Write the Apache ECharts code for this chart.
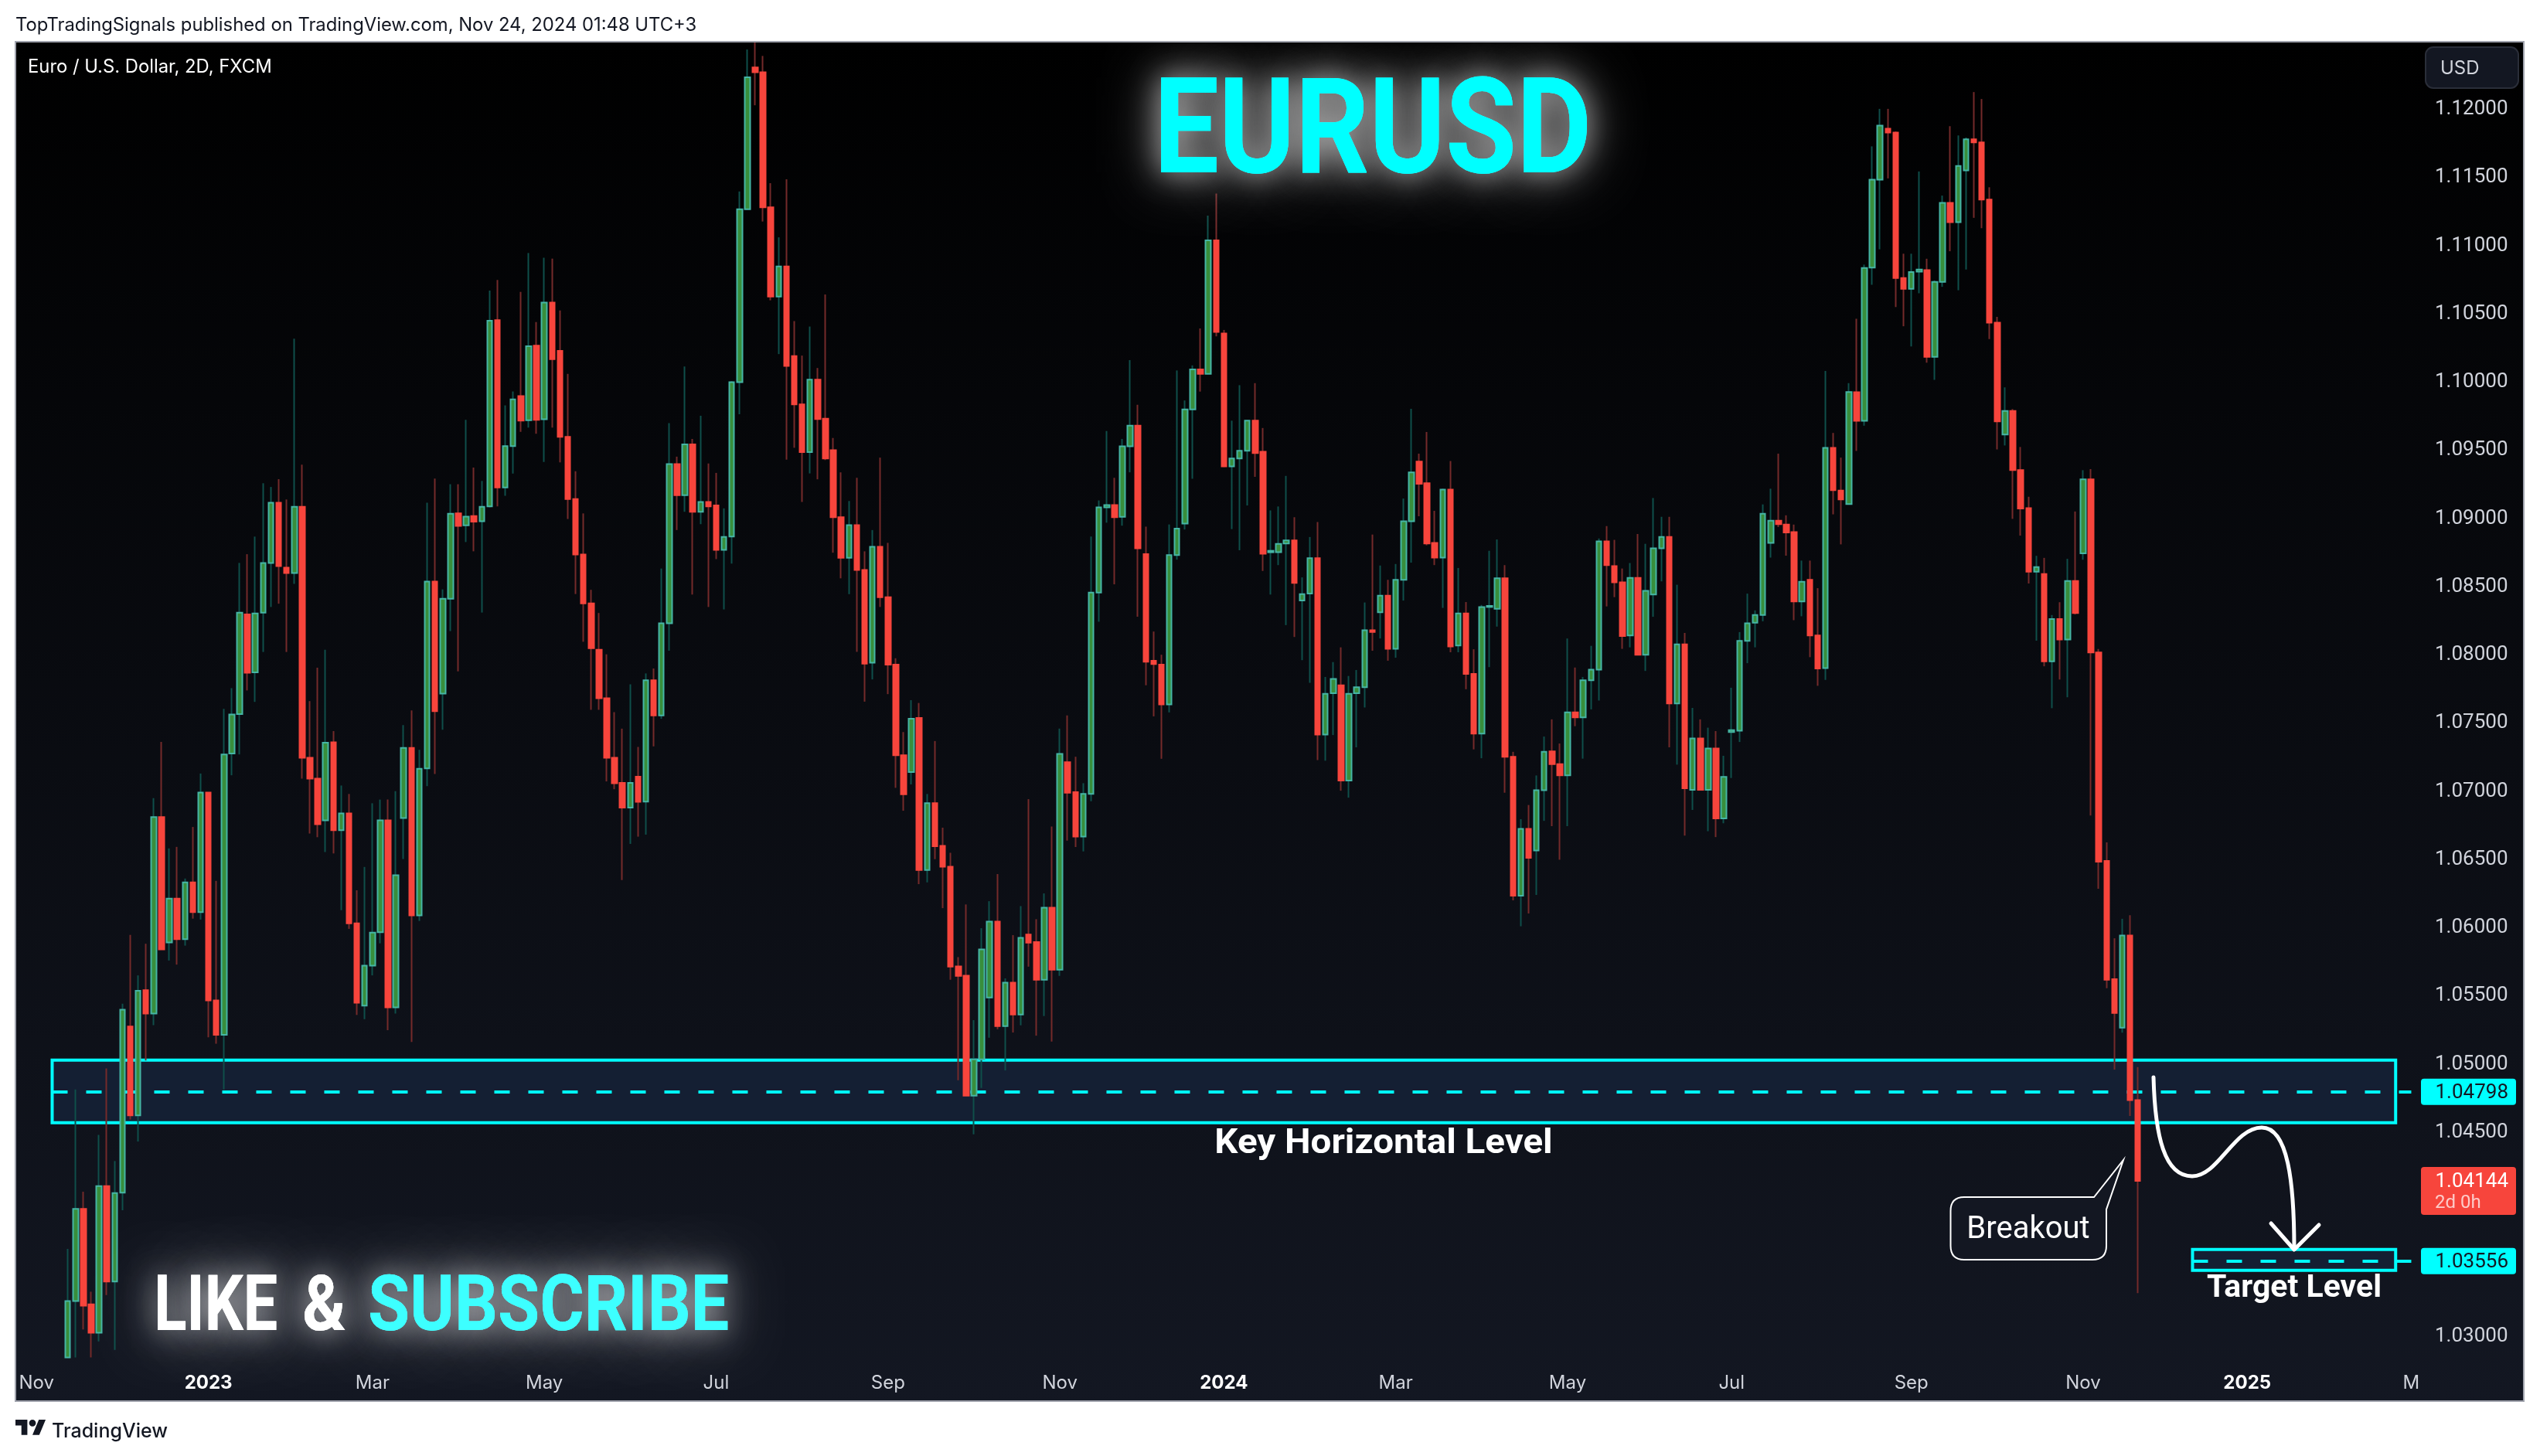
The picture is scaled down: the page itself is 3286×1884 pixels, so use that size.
<!DOCTYPE html>
<html><head><meta charset="utf-8">
<style>html,body{margin:0;padding:0;background:#fff}#c{width:3286px;height:1884px}</style>
<script src="https://cdn.jsdelivr.net/npm/echarts@6/dist/echarts.min.js"></script>
</head><body><div id="c"></div>
<script>
const opens=[
1.02850,1.03263,1.03939,1.03240,1.03031,1.04106,1.03407,1.04058,1.05276,1.04624,
1.05542,1.05371,1.06811,1.05893,1.06214,1.05917,1.06333,1.06115,1.06992,1.05467,
1.05215,1.07278,1.07567,1.08298,1.07873,1.08311,1.08675,1.09116,1.08641,1.08600,
1.09086,1.07247,1.07094,1.06787,1.07360,1.06715,1.06838,1.06033,1.05429,1.05723,
1.05968,1.06787,1.05416,1.06804,1.07319,1.06091,1.07169,1.08539,1.07717,1.08413,
1.09038,1.08950,1.09018,1.08980,1.09089,1.10455,1.09228,1.09531,1.09898,1.09721,
1.10268,1.09728,1.10584,1.10230,1.09599,1.09143,1.08736,1.08379,1.08039,1.07683,
1.07247,1.07062,1.06881,1.07108,1.06925,1.07814,1.07557,1.08233,1.09400,1.09172,
1.09544,1.09050,1.09122,1.09096,1.08771,1.08869,1.10000,1.11268,1.12308,1.12272,
1.11282,1.10628,1.10849,1.10191,1.09837,1.09487,1.10018,1.09732,1.09501,1.09010,
1.08713,1.08952,1.08623,1.07944,1.08793,1.08424,1.07929,1.07265,1.07142,1.07539,
1.06424,1.06913,1.06601,1.06448,1.05717,1.05649,1.04769,1.05035,1.05489,1.06046,
1.05279,1.05598,1.05364,1.05950,1.05895,1.05619,1.06148,1.05693,1.07214,1.06994,
1.06668,1.06981,1.08457,1.09082,1.09100,1.09013,1.09530,1.09682,1.08739,1.07958,
1.07929,1.07637,1.08732,1.08963,1.09801,1.10094,1.10061,1.11040,1.10357,1.09382,
1.09440,1.09498,1.09718,1.09490,1.08753,1.08753,1.08818,1.08840,1.08399,1.08450,
1.08710,1.07416,1.07720,1.07778,1.07080,1.07720,1.07763,1.08182,1.08313,1.08435,
1.08045,1.08551,1.08981,1.09418,1.09259,1.08822,1.08714,1.09212,1.08070,1.08305,
1.07861,1.07424,1.08352,1.08338,1.08562,1.07254,1.06235,1.06726,1.06566,1.07008,
1.07294,1.07200,1.07117,1.07579,1.07543,1.07814,1.07893,1.08833,1.08652,1.08533,
1.08143,1.08565,1.08002,1.08443,1.08782,1.08865,1.07644,1.08078,1.07012,1.07388,
1.07012,1.07315,1.06802,1.07435,1.07445,1.08103,1.08237,1.08294,1.08822,1.08985,
1.08956,1.08901,1.08392,1.08551,1.08143,1.07904,1.09519,1.09205,1.09107,1.09926,
1.09717,1.10840,1.11484,1.11859,1.11830,1.10764,1.10685,1.10811,1.10822,1.10186,
1.10736,1.11314,1.11173,1.11552,1.11780,1.11758,1.11339,1.10436,1.09616,1.09789,
1.09355,1.09077,1.08611,1.08593,1.07954,1.08264,1.08113,1.08543,1.08745,1.09287,
1.08019,1.06490,1.05623,1.05268,1.05944,1.04737];
const closes=[
1.03263,1.03939,1.03229,1.03031,1.04106,1.03407,1.04055,1.05399,1.04624,1.05539,
1.05371,1.06811,1.05842,1.06214,1.05917,1.06333,1.06115,1.06992,1.05467,1.05215,
1.07271,1.07564,1.08311,1.07870,1.08304,1.08675,1.09116,1.08651,1.08600,1.09086,
1.07247,1.07094,1.06760,1.07357,1.06715,1.06838,1.06033,1.05450,1.05723,1.05965,
1.06787,1.05416,1.06385,1.07319,1.06091,1.07166,1.08539,1.07588,1.08413,1.09035,
1.08946,1.09014,1.08977,1.09086,1.10451,1.09228,1.09531,1.09874,1.09718,1.10264,
1.09724,1.10584,1.10169,1.09599,1.09143,1.08736,1.08379,1.08050,1.07683,1.07247,
1.07060,1.06881,1.07062,1.06923,1.07814,1.07557,1.08233,1.09400,1.09172,1.09544,
1.09050,1.09122,1.09089,1.08771,1.08865,1.10000,1.11268,1.12236,1.12272,1.11282,
1.10628,1.10849,1.10119,1.09837,1.09487,1.10018,1.09729,1.09440,1.09010,1.08713,
1.08952,1.08623,1.07937,1.08793,1.08424,1.07929,1.07265,1.06979,1.07532,1.06424,
1.06913,1.06598,1.06447,1.05715,1.05647,1.04769,1.05035,1.05842,1.06046,1.05279,
1.05598,1.05364,1.05927,1.05891,1.05619,1.06148,1.05693,1.07275,1.06990,1.06668,
1.06981,1.08457,1.09082,1.09100,1.09010,1.09530,1.09682,1.08782,1.07951,1.07933,
1.07637,1.08732,1.08927,1.09801,1.10094,1.10061,1.11040,1.10368,1.09382,1.09440,
1.09498,1.09718,1.09480,1.08742,1.08764,1.08815,1.08840,1.08529,1.08446,1.08710,
1.07416,1.07716,1.07825,1.07080,1.07716,1.07763,1.08182,1.08168,1.08435,1.08045,
1.08551,1.08981,1.09339,1.09255,1.08818,1.08714,1.09212,1.08063,1.08305,1.07861,
1.07424,1.08352,1.08360,1.08562,1.07254,1.06235,1.06726,1.06513,1.07008,1.07290,
1.07200,1.07117,1.07579,1.07543,1.07814,1.07893,1.08833,1.08659,1.08533,1.08139,
1.08565,1.08002,1.08471,1.08782,1.08865,1.07644,1.08078,1.07023,1.07388,1.07012,
1.07315,1.06802,1.07106,1.07449,1.08103,1.08233,1.08294,1.09035,1.08985,1.08959,
1.08898,1.08392,1.08537,1.08143,1.07901,1.09519,1.09208,1.09140,1.09928,1.09717,
1.10837,1.11484,1.11881,1.11830,1.10764,1.10685,1.10808,1.10826,1.10186,1.10736,
1.11314,1.11173,1.11585,1.11780,1.11758,1.11339,1.10436,1.09713,1.09789,1.09355,
1.09074,1.08611,1.08644,1.07954,1.08264,1.08113,1.08543,1.08308,1.09287,1.08019,
1.06484,1.05619,1.05376,1.05944,1.04737,1.04144];
const lows=[
1.02850,1.02850,1.03055,1.02850,1.02967,1.03308,1.02905,1.03929,1.04594,1.04433,
1.05027,1.05286,1.05842,1.05760,1.05730,1.05869,1.06067,1.06060,1.05197,1.05150,
1.04815,1.07118,1.07271,1.07740,1.07656,1.08022,1.08352,1.08376,1.08022,1.08522,
1.07094,1.06691,1.06664,1.06555,1.06545,1.06129,1.05992,1.05361,1.05330,1.05651,
1.05886,1.05249,1.05371,1.06504,1.05163,1.06050,1.07039,1.07128,1.07452,1.08175,
1.07880,1.08828,1.08760,1.08311,1.09082,1.09089,1.09167,1.09330,1.09636,1.09667,
1.09622,1.09415,1.09667,1.09412,1.08997,1.08447,1.08097,1.07598,1.07598,1.07073,
1.07016,1.06350,1.06615,1.06668,1.06683,1.07330,1.07532,1.08031,1.08916,1.09050,
1.08443,1.08959,1.08352,1.08703,1.08334,1.08670,1.09765,1.11268,1.12030,1.11178,
1.10600,1.10206,1.09432,1.09519,1.09122,1.09331,1.09288,1.09429,1.08750,1.08562,
1.08446,1.08023,1.07658,1.07821,1.08352,1.07713,1.07026,1.06858,1.07051,1.06320,
1.06333,1.06503,1.06144,1.05619,1.04882,1.04769,1.04486,1.04826,1.05194,1.05256,
1.04954,1.05232,1.05285,1.05715,1.05209,1.05353,1.05166,1.05647,1.06639,1.06592,
1.06560,1.06928,1.08244,1.08970,1.08518,1.08948,1.09339,1.08280,1.07778,1.07550,
1.07239,1.07579,1.08699,1.08920,1.09292,1.09931,1.10061,1.10336,1.09378,1.08923,
1.08768,1.09096,1.09306,1.08616,1.08443,1.08659,1.08219,1.08132,1.07962,1.07796,
1.07229,1.07225,1.07413,1.07005,1.06954,1.07323,1.07615,1.08031,1.08121,1.07958,
1.07980,1.08399,1.08677,1.09017,1.08804,1.08659,1.08345,1.08020,1.08020,1.07749,
1.07308,1.07243,1.07911,1.08208,1.06990,1.06201,1.06011,1.06105,1.06241,1.06784,
1.06745,1.06499,1.06745,1.07478,1.07240,1.07601,1.07666,1.08356,1.08424,1.08045,
1.08056,1.08002,1.07883,1.08280,1.08540,1.07323,1.07196,1.06676,1.06864,1.07008,
1.06708,1.06665,1.06766,1.07098,1.07362,1.07940,1.08056,1.08247,1.08714,1.08938,
1.08728,1.08255,1.08284,1.07984,1.07774,1.07818,1.09031,1.08811,1.09107,1.09496,
1.09681,1.10714,1.10974,1.11494,1.10551,1.10410,1.10262,1.10652,1.10143,1.10017,
1.10699,1.10960,1.10674,1.10826,1.11205,1.11129,1.10316,1.09507,1.09536,1.08998,
1.08875,1.08524,1.08105,1.07917,1.07610,1.07820,1.07690,1.08297,1.08698,1.06823,
1.06286,1.05557,1.04960,1.05231,1.04621,1.03321];
const highs=[
1.03646,1.04815,1.04065,1.03332,1.04481,1.04969,1.04290,1.05443,1.05948,1.05651,
1.05883,1.06951,1.07363,1.06582,1.06593,1.06361,1.06739,1.07131,1.06992,1.06344,
1.07605,1.07757,1.08675,1.08739,1.08868,1.09259,1.09232,1.09289,1.09140,1.10319,
1.09395,1.07662,1.07907,1.08039,1.07442,1.07043,1.06981,1.06275,1.06446,1.06913,
1.06940,1.06940,1.07002,1.07486,1.07594,1.07305,1.09116,1.09293,1.08481,1.09252,
1.09252,1.09724,1.09374,1.09276,1.10672,1.10750,1.09830,1.09932,1.10662,1.10947,
1.10441,1.10913,1.10906,1.10526,1.10061,1.09347,1.09038,1.08478,1.08308,1.08005,
1.07581,1.07460,1.07785,1.07326,1.07865,1.07901,1.08634,1.09700,1.09454,1.10115,
1.09584,1.09754,1.09404,1.09335,1.09075,1.10007,1.11398,1.12439,1.12490,1.12392,
1.11459,1.11062,1.11488,1.10448,1.10195,1.10408,1.10104,1.10643,1.09591,1.09339,
1.09129,1.09299,1.08760,1.08916,1.09447,1.08822,1.07976,1.07435,1.07669,1.07648,
1.06981,1.07369,1.06734,1.06550,1.05785,1.06171,1.05323,1.05997,1.06195,1.06394,
1.05629,1.05946,1.06159,1.06943,1.06063,1.06252,1.06743,1.07460,1.07557,1.07254,
1.07060,1.08869,1.09133,1.09642,1.09299,1.09584,1.10162,1.09834,1.08941,1.08172,
1.08002,1.08957,1.10086,1.09866,1.10123,1.10394,1.11221,1.11383,1.10383,1.09718,
1.09978,1.09718,1.09993,1.09664,1.09060,1.09089,1.09313,1.09010,1.08569,1.08865,
1.08974,1.07839,1.07948,1.08056,1.07846,1.07890,1.08385,1.08883,1.08656,1.08551,
1.08667,1.09147,1.09805,1.09476,1.09635,1.09057,1.09219,1.09422,1.08638,1.08388,
1.08042,1.08367,1.08764,1.08847,1.08659,1.07290,1.06796,1.06900,1.07117,1.07402,
1.07528,1.07351,1.08121,1.07908,1.07839,1.08067,1.08854,1.08945,1.08844,1.08634,
1.08674,1.08887,1.08815,1.09151,1.09013,1.09013,1.08515,1.08161,1.07612,1.07528,
1.07467,1.07442,1.07261,1.07760,1.08168,1.08450,1.08327,1.09104,1.09219,1.09476,
1.09024,1.08956,1.08692,1.08692,1.08490,1.10083,1.09628,1.09447,1.09993,1.10465,
1.10862,1.11729,1.12004,1.12004,1.11838,1.10942,1.10942,1.11545,1.10905,1.10746,
1.11368,1.11877,1.11809,1.11794,1.12127,1.12076,1.11429,1.10479,1.09962,1.09803,
1.09525,1.09160,1.08727,1.08712,1.08293,1.08387,1.08705,1.09052,1.09355,1.09363,
1.08044,1.06626,1.05923,1.06066,1.06092,1.04979];
const priceTicks=[1.03,1.035,1.04,1.045,1.05,1.055,1.06,1.065,1.07,1.075,1.08,1.085,1.09,1.095,1.10,1.105,1.11,1.115,1.12];
const timeLabels=['Nov','2023','Mar','May','Jul','Sep','Nov','2024','Mar','May','Jul','Sep','Nov','2025','M'];
const timeLabelBars=[2,24,45,67,89,111,133,154,176,198,219,242,264,285,306];
const leadingBars=6, totalBars=307;
const keyLevel=1.04798, keyTop=1.05030, keyBottom=1.04571;
const targetLevel=1.03556, targetTop=1.03642, targetBottom=1.03488;
const lastPrice=1.04144;
const keyZoneBars=[4,304], targetZoneBars=[278,304], levelEndBar=306;

const categories=new Array(totalBars).fill('');
timeLabels.forEach((t,i)=>{categories[timeLabelBars[i]]=t;});
const blank=new Array(leadingBars).fill(['-','-','-','-']);
const wickData=blank.concat(opens.map((o,i)=>[o,closes[i],lows[i],highs[i]]));
const bodyData=blank.concat(opens.map((o,i)=>[o,closes[i],Math.min(o,closes[i]),Math.max(o,closes[i])]));

const shape=(name,fn)=>echarts.graphic.registerShape(name,echarts.graphic.extendShape({buildPath:fn}));
shape('callout',(c)=>{c.moveTo(2541,1549);c.lineTo(2709,1549);c.lineTo(2747,1501);c.lineTo(2725,1565);c.lineTo(2725,1612);
  c.quadraticCurveTo(2725,1630,2707,1630);c.lineTo(2541,1630);c.quadraticCurveTo(2523.5,1630,2523.5,1612);
  c.lineTo(2523.5,1567);c.quadraticCurveTo(2523.5,1549,2541,1549);c.closePath();});
shape('forecast',(c)=>{c.moveTo(2786,1394);c.bezierCurveTo(2788,1470,2800,1522,2836,1522);
  c.bezierCurveTo(2870,1522,2890,1459,2926,1459);c.bezierCurveTo(2960,1459,2968,1530,2968,1616);});
shape('arrowhead',(c)=>{c.moveTo(2938,1583);c.lineTo(2968,1617);c.lineTo(3000,1585);});
shape('tvlogo',(c)=>{const k=1.1,X=20,Y=1832.5,p=(f,x,y)=>c[f](X+x*k,Y+y*k);
  p('moveTo',14,22);p('lineTo',7,22);p('lineTo',7,11);p('lineTo',0,11);p('lineTo',0,4);p('lineTo',14,4);c.closePath();
  p('moveTo',28,22);p('lineTo',20,22);p('lineTo',27.5,4);p('lineTo',35.5,4);c.closePath();
  c.moveTo(X+24*k,Y+8*k);c.arc(X+20*k,Y+8*k,4*k,0,Math.PI*2);c.closePath();});

const CY='#00FFFF', UI='Inter, sans-serif', HEAD='Roboto, sans-serif', NUM='Roboto, sans-serif';
const chart=echarts.init(document.getElementById('c'),null,{renderer:'canvas'});
const zoneStyle={color:'#141f33',borderColor:CY,borderWidth:4};
chart.setOption({
  animation:false,
  backgroundColor:'#ffffff',
  grid:{left:22,top:54,width:3102.5,height:1703,containLabel:false},
  xAxis:{type:'category',data:categories,boundaryGap:true,
    axisLine:{show:false},axisTick:{show:false},splitLine:{show:false},
    axisLabel:{interval:(i,v)=>v!=='',hideOverlap:false,margin:21,
      formatter:v=>/^\d{4}$/.test(v)?`{y|${v}}`:`{n|${v}}`,
      rich:{y:{fontFamily:UI,fontSize:24,fontWeight:700,color:'#ffffff'},n:{fontFamily:UI,fontSize:24,color:'#d1d4dc'}}}},
  yAxis:{type:'value',position:'right',min:1.02847,max:1.12496,scale:true,
    axisLine:{show:false},axisTick:{show:false},splitLine:{show:false},
    axisLabel:{customValues:priceTicks,align:'right',margin:120,fontFamily:NUM,fontSize:26,color:'#d1d4dc',padding:[3,0,0,0],
      formatter:v=>Number(v).toFixed(5)}},
  series:[
    {type:'candlestick',name:'wicks',data:wickData,barWidth:1,silent:true,
     itemStyle:{color:'#0f4f4a',color0:'#742a2a',borderColor:'#0f4f4a',borderColor0:'#742a2a',borderWidth:2},
     markArea:{silent:true,z:1,label:{show:false},itemStyle:zoneStyle,data:[
       [{xAxis:keyZoneBars[0],yAxis:keyTop},{xAxis:keyZoneBars[1],yAxis:keyBottom}],
       [{xAxis:targetZoneBars[0],yAxis:targetTop},{xAxis:targetZoneBars[1],yAxis:targetBottom}]]},
     markLine:{silent:true,z:1,symbol:'none',label:{show:false},
       lineStyle:{color:CY,width:4,type:[20,24],opacity:1},data:[
       [{xAxis:keyZoneBars[0],yAxis:keyLevel},{xAxis:levelEndBar,yAxis:keyLevel}],
       [{xAxis:targetZoneBars[0],yAxis:targetLevel},{xAxis:levelEndBar,yAxis:targetLevel}]]}},
    {type:'candlestick',name:'EURUSD',data:bodyData,barWidth:7,silent:true,z:3,
     itemStyle:{color:'#388e3c',color0:'#f7453c',borderColor:'#45b5a5',borderColor0:'#f7453c',borderWidth:2}}
  ]
});
const yOf=p=>chart.convertToPixel({yAxisIndex:0},p);
const txt=(text,x,y,font,fill,extra)=>Object.assign({type:'text',x,y,z:100,silent:true,
  style:{text,font,fill,textAlign:(extra&&extra.align)||'left',textVerticalAlign:'middle',verticalAlign:'middle',
   ...(extra&&extra.style||{})}},extra&&extra.el||{});
const glow=(c,b)=>({shadowColor:c,shadowBlur:b,textShadowColor:c,textShadowBlur:b,textShadowOffsetX:0,textShadowOffsetY:0});
const glowText=(text,x,y,font,fill,sx,align)=>[
  txt(text,x,y,font,fill,{align,el:{scaleX:sx,z:95},style:glow('rgba(255,255,255,0.55)',70)}),
  txt(text,x,y,font,fill,{align,el:{scaleX:sx,z:96},style:glow('rgba(255,255,255,0.6)',36)})];
const badge=(price,h,fill)=>({type:'rect',z:99,silent:true,shape:{x:3132,y:yOf(price)-h/2,width:123,height:h,r:4},style:{fill}});
const yk=yOf(keyLevel), yt=yOf(targetLevel), yl=yOf(lastPrice);
chart.setOption({graphic:{elements:[
  {type:'rect',z:-100,silent:true,shape:{x:20,y:54,width:3245,height:1759},
   style:{fill:{type:'linear',x:0,y:0,x2:0,y2:1,colorStops:[{offset:0,color:'#000000'},{offset:1,color:'#131722'}]},stroke:'#a0a3ad',lineWidth:2}},
  txt('TopTradingSignals published on TradingView.com, Nov 24, 2024 01:48 UTC+3',20,33,'23.8px '+UI,'#131722'),
  txt('Euro / U.S. Dollar, 2D, FXCM',36,87,'23.8px '+UI,'#ffffff'),
  {type:'rect',z:99,silent:true,shape:{x:3138,y:61,width:120,height:53,r:10},style:{fill:'#131722',stroke:'#2a2e39',lineWidth:2}},
  txt('USD',3157,89,'24px '+UI,'#d1d4dc'),
  ...glowText('EURUSD',1776,180,'700 172px '+HEAD,CY,0.87,'center'),
  ...glowText('LIKE',199,1696,'700 101px '+HEAD,'#ffffff',0.78,'left'),
  ...glowText('&',391,1696,'700 101px '+HEAD,'#ffffff',0.85,'left'),
  ...glowText('SUBSCRIBE',476,1696,'700 101px '+HEAD,'#3dffff',0.87,'left'),
  txt('Key Horizontal Level',1790,1481,'700 44px '+HEAD,'#ffffff',{align:'center',el:{scaleX:1.08}}),
  txt('Target Level',2968,1668,'700 41px '+HEAD,'#ffffff',{align:'center'}),
  {type:'callout',z:90,silent:true,style:{fill:'#131722',stroke:'#ffffff',lineWidth:2}},
  txt('Breakout',2624,1592,'400 40px '+HEAD,'#ffffff',{align:'center'}),
  {type:'forecast',z:90,silent:true,style:{fill:'none',stroke:'#ffffff',lineWidth:5,lineCap:'round'}},
  {type:'arrowhead',z:90,silent:true,style:{fill:'none',stroke:'#ffffff',lineWidth:5,lineCap:'round',lineJoin:'round'}},
  badge(keyLevel,34,CY),
  txt(keyLevel.toFixed(5),3245,yk+2,'26px '+NUM,'#131722',{align:'right'}),
  badge(targetLevel,34,CY),
  txt(targetLevel.toFixed(5),3245,yt+2,'26px '+NUM,'#131722',{align:'right'}),
  {type:'rect',z:99,silent:true,shape:{x:3132,y:yl-18,width:123,height:62,r:4},style:{fill:'#f7453c'}},
  txt(lastPrice.toFixed(5),3245,yl+1,'26px '+NUM,'#ffffff',{align:'right'}),
  txt('2d 0h',3150,yl+29,'24px '+NUM,'rgba(255,255,255,0.72)'),
  {type:'tvlogo',z:100,silent:true,style:{fill:'#131722'}},
  txt('TradingView',67,1852,'500 25px '+UI,'#131722')
]}});
</script></body></html>
